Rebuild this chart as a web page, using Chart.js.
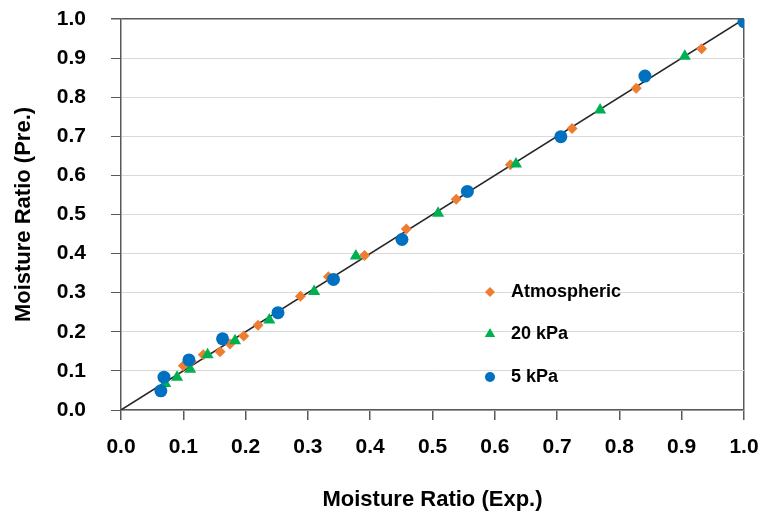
<!DOCTYPE html>
<html>
<head>
<meta charset="UTF-8">
<title>Moisture Ratio</title>
<script src="https://cdn.jsdelivr.net/npm/chart.js"></script>
<style>
    body { margin: 0; background: #fff; }
    #wrap { width: 761px; height: 516px; }
</style>
</head>
<body>
<div id="wrap"><canvas id="chart"></canvas></div>
<script>
const atmExp  = [0.932, 0.827, 0.724, 0.625, 0.538, 0.458, 0.391, 0.333, 0.288, 0.220, 0.197, 0.175, 0.159, 0.132, 0.113, 0.100];
const atmPre  = [0.924, 0.823, 0.720, 0.627, 0.539, 0.463, 0.395, 0.341, 0.291, 0.217, 0.189, 0.169, 0.149, 0.141, 0.125, 0.113];
const kpa20Exp = [0.905, 0.769, 0.634, 0.509, 0.377, 0.310, 0.238, 0.183, 0.139, 0.111, 0.090, 0.071];
const kpa20Pre = [0.905, 0.767, 0.629, 0.503, 0.394, 0.303, 0.230, 0.177, 0.141, 0.104, 0.084, 0.068];
const kpa5Exp = [1.000, 0.841, 0.706, 0.556, 0.451, 0.341, 0.252, 0.163, 0.109, 0.069, 0.064];
const kpa5Pre = [0.993, 0.854, 0.699, 0.559, 0.436, 0.334, 0.249, 0.182, 0.128, 0.084, 0.049];
const seriesNames = ['Atmospheric', '20 kPa', '5 kPa'];
const axisTicks = [0, 0.1, 0.2, 0.3, 0.4, 0.5, 0.6, 0.7, 0.8, 0.9, 1.0];

const ORANGE = '#ED7D31';
const GREEN = '#00B050';
const BLUE = '#0070C0';
const AXIS = '#595959';
const GRID = '#d9d9d9';
const FONT = "'Liberation Sans', Arial, sans-serif";

function pts(xs, ys) {
    return xs.map((x, i) => ({ x: x, y: ys[i] }));
}

// legend drawn inside the plot area, like the original
const insideLegend = {
    id: 'insideLegend',
    afterDraw(chart) {
        const ctx = chart.ctx;
        const items = [
            { name: seriesNames[0], color: ORANGE, style: 'rectRot', r: 5 },
            { name: seriesNames[1], color: GREEN, style: 'triangle', r: 6 },
            { name: seriesNames[2], color: BLUE, style: 'circle', r: 5 }
        ];
        const rowsY = [292, 334, 377];
        ctx.save();
        ctx.font = 'bold 18px ' + FONT;
        ctx.textBaseline = 'middle';
        ctx.textAlign = 'left';
        items.forEach((it, i) => {
            ctx.fillStyle = it.color;
            Chart.helpers.drawPoint(ctx, { pointStyle: it.style, radius: it.r, rotation: 0, borderWidth: 0 }, 490, rowsY[i]);
            ctx.fillStyle = '#000';
            ctx.fillText(it.name, 511, rowsY[i]);
        });
        ctx.restore();
    }
};

new Chart(document.getElementById('chart'), {
    type: 'scatter',
    data: {
        datasets: [
            {
                label: seriesNames[2],
                data: pts(kpa5Exp, kpa5Pre),
                backgroundColor: BLUE,
                borderWidth: 0,
                pointStyle: 'circle',
                pointRadius: 6.5
            },
            {
                label: seriesNames[1],
                data: pts(kpa20Exp, kpa20Pre),
                backgroundColor: GREEN,
                borderWidth: 0,
                pointStyle: 'triangle',
                pointRadius: 7
            },
            {
                label: seriesNames[0],
                data: pts(atmExp, atmPre),
                backgroundColor: ORANGE,
                borderWidth: 0,
                pointStyle: 'rectRot',
                pointRadius: 5.5
            },
            {
                label: '1:1',
                data: [{ x: 0, y: 0 }, { x: 1, y: 1 }],
                showLine: true,
                borderColor: '#262626',
                borderWidth: 1.5,
                pointRadius: 0
            }
        ]
    },
    options: {
        responsive: true,
        maintainAspectRatio: false,
        animation: false,
        layout: { padding: { top: 19, right: 17, left: 0, bottom: 0 } },
        plugins: {
            legend: { display: false },
            tooltip: { enabled: false }
        },
        scales: {
            x: {
                type: 'linear',
                min: 0,
                max: 1,
                afterFit(scale) {
                    scale.height = 106;
                    scale.paddingLeft = 0;
                    scale.paddingRight = 0;
                },
                afterBuildTicks(scale) { scale.ticks = axisTicks.map(v => ({ value: v })); },
                border: { color: AXIS, width: 1.5 },
                grid: {
                    drawOnChartArea: true,
                    tickLength: 10,
                    tickColor: AXIS,
                    lineWidth: 1.5,
                    color: ctx => (ctx.tick && ctx.tick.value === 1 ? AXIS : 'rgba(0,0,0,0)')
                },
                ticks: {
                    color: '#000',
                    padding: 15,
                    maxRotation: 0,
                    font: { family: FONT, size: 21, weight: 'bold' },
                    callback: v => v.toFixed(1)
                },
                title: {
                    display: true,
                    text: 'Moisture Ratio (Exp.)',
                    color: '#000',
                    padding: { top: 0, bottom: 3 },
                    font: { family: FONT, size: 22, weight: 'bold' }
                }
            },
            y: {
                type: 'linear',
                min: 0,
                max: 1,
                afterFit(scale) {
                    scale.width = 121;
                    scale.paddingTop = 0;
                    scale.paddingBottom = 0;
                },
                afterBuildTicks(scale) { scale.ticks = axisTicks.map(v => ({ value: v })); },
                border: { color: AXIS, width: 1.5 },
                grid: {
                    tickLength: 10,
                    tickColor: AXIS,
                    color: ctx => (ctx.tick && ctx.tick.value === 1 ? AXIS : GRID),
                    lineWidth: ctx => (ctx.tick && ctx.tick.value === 1 ? 1.5 : 1)
                },
                ticks: {
                    color: '#000',
                    padding: 25,
                    font: { family: FONT, size: 21, weight: 'bold' },
                    callback: v => v.toFixed(1)
                },
                title: {
                    display: true,
                    text: 'Moisture Ratio (Pre.)',
                    color: '#000',
                    padding: { top: 11, bottom: 0 },
                    font: { family: FONT, size: 22, weight: 'bold' }
                }
            }
        }
    },
    plugins: [insideLegend]
});
</script>
</body>
</html>
